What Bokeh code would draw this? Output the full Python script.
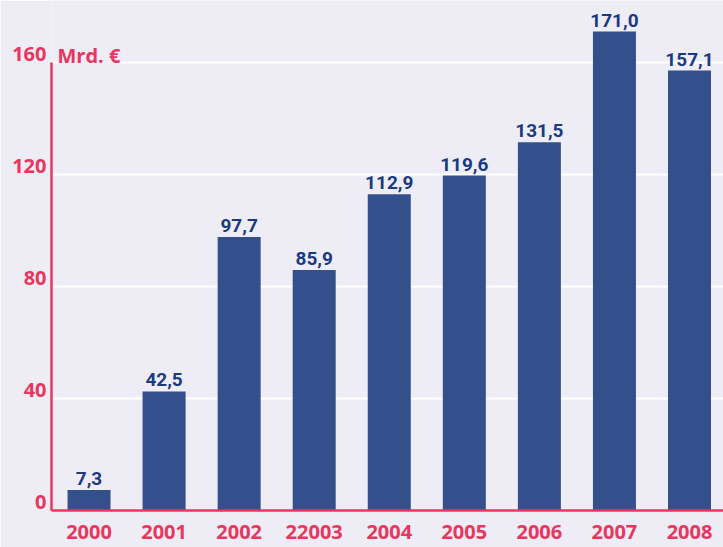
from bokeh.plotting import figure
from bokeh.models import Range1d, FixedTicker, Label, ColumnDataSource, LabelSet, LinearAxis
from bokeh.core.properties import value
from bokeh.embed import file_html
from bokeh.resources import INLINE

years = ["2000", "2001", "2002", "22003", "2004", "2005", "2006", "2007", "2008"]
values = [7.3, 42.5, 97.7, 85.9, 112.9, 119.6, 131.5, 171.0, 157.1]
value_labels = ["7,3", "42,5", "97,7", "85,9", "112,9", "119,6", "131,5", "171,0", "157,1"]
y_ticks = [0, 40, 80, 120, 160]
unit_label = "Mrd. €"

BG = "#eeedf5"
PINK = "#e8365f"
BAR = "#34508c"
NAVY = "#1b3a80"

Y_END = 182.1
SHIFT = 2.857  # label raise (about 8px) above the gridlines

xs = list(range(len(years)))
src = ColumnDataSource(dict(x=xs, top=values, lab=value_labels))

p = figure(width=723, height=547, output_backend="svg", toolbar_location=None,
           x_range=Range1d(-0.5, 8.453), y_range=Range1d(0, Y_END),
           background_fill_color=BG, border_fill_color=BG,
           min_border_left=51, min_border_right=0, min_border_top=0, min_border_bottom=37)
p.outline_line_color = None
p.extra_y_ranges = {"lab": Range1d(-SHIFT, Y_END - SHIFT)}

p.vbar(x="x", top="top", width=0.573, source=src, fill_color=BAR, line_color=None)

labels = LabelSet(x="x", y="top", text="lab", source=src, text_align="center",
                  text_baseline="bottom", y_offset=5, text_color=NAVY,
                  text_font_size="19px", text_font_style="bold",
                  text_font=value("Roboto"))
p.add_layout(labels)

p.xgrid.grid_line_color = None
p.ygrid.grid_line_color = "white"
p.ygrid.grid_line_width = 2
p.ygrid.ticker = FixedTicker(ticks=[40, 80, 120, 160])

p.yaxis.ticker = FixedTicker(ticks=y_ticks)
p.yaxis.bounds = (0, 160)
p.yaxis.axis_line_color = PINK
p.yaxis.axis_line_width = 2.5
p.yaxis.major_tick_line_color = None
p.yaxis.major_tick_out = 0
p.yaxis.minor_tick_line_color = None
p.yaxis.minor_tick_out = 0
p.yaxis.major_label_text_color = None
p.yaxis.major_label_text_font_size = "1px"
p.yaxis.major_label_standoff = 0

lab_axis = LinearAxis(y_range_name="lab", ticker=FixedTicker(ticks=y_ticks),
                      axis_line_color=None, major_tick_line_color=None,
                      minor_tick_line_color=None, major_tick_out=0, minor_tick_out=0,
                      major_label_text_color=PINK, major_label_text_font="Open Sans",
                      major_label_text_font_style="bold", major_label_text_font_size="20px",
                      major_label_standoff=5)
p.add_layout(lab_axis, "left")

p.xaxis.ticker = FixedTicker(ticks=xs)
p.xaxis.major_label_overrides = {i: y for i, y in enumerate(years)}
p.xaxis.axis_line_color = PINK
p.xaxis.axis_line_width = 2.5
p.xaxis.major_tick_line_color = None
p.xaxis.minor_tick_line_color = None
p.xaxis.major_label_text_color = PINK
p.xaxis.major_label_text_font = "Open Sans"
p.xaxis.major_label_text_font_style = "bold"
p.xaxis.major_label_text_font_size = "20px"
p.xaxis.major_label_standoff = 8

p.add_layout(Label(x=-0.42, y=160, y_offset=7, text=unit_label, text_color=PINK,
                   text_font="Open Sans", text_font_style="bold", text_font_size="20px",
                   text_baseline="middle", background_fill_color=BG,
                   border_line_color=None))

open("out.html", "w").write(file_html(p, INLINE))
